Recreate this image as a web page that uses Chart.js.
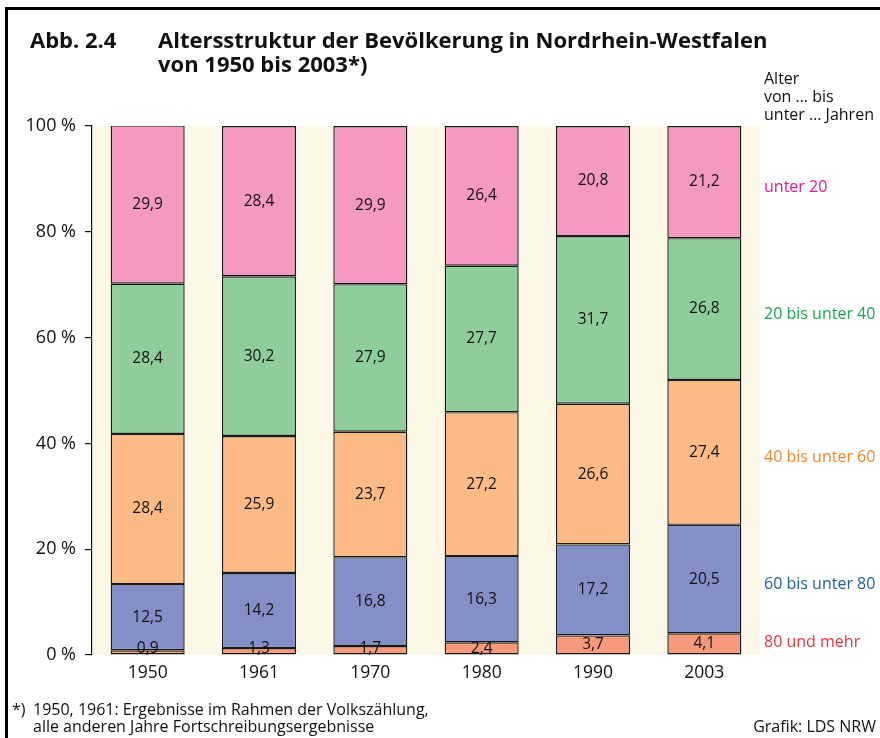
<!DOCTYPE html>
<html><head><meta charset="utf-8">
<script src="https://cdn.jsdelivr.net/npm/chart.js@4/dist/chart.umd.min.js"></script>
<style>
html,body{margin:0;padding:0;background:#fff;}
#wrap{position:relative;width:880px;height:738px;overflow:hidden;font-family:"Open Sans",sans-serif;color:#111;}
#frame{position:absolute;left:5px;top:7px;width:880px;height:740px;border-left:3px solid #000;border-top:3px solid #000;}
canvas{position:absolute;left:0;top:0;}
.t{position:absolute;white-space:nowrap;}
</style></head>
<body>
<div id="wrap">
<div id="frame"></div>
<canvas id="c" width="880" height="738"></canvas>
<div class="t" style="left:30px;top:27px;font-weight:bold;font-size:22px;line-height:24px;">Abb. 2.4</div>
<div class="t" style="left:158px;top:27px;font-weight:bold;font-size:22px;line-height:24px;">Altersstruktur der Bevölkerung in Nordrhein-Westfalen<br>von 1950 bis 2003*)</div>
<div class="t" style="left:764px;top:69px;font-size:16px;line-height:18px;">Alter<br>von … bis<br>unter … Jahren</div>
<div class="t" style="left:12px;top:701px;font-size:16px;line-height:17px;">*)</div>
<div class="t" style="left:33px;top:701px;font-size:16px;line-height:17px;">1950, 1961: Ergebnisse im Rahmen der Volkszählung,<br>alle anderen Jahre Fortschreibungsergebnisse</div>
<div class="t" style="right:4px;top:718px;font-size:16px;line-height:17px;">Grafik: LDS NRW</div>
</div>
<script>
const years = ["1950","1961","1970","1980","1990","2003"];
const seriesLabels = ["80 und mehr","60 bis unter 80","40 bis unter 60","20 bis unter 40","unter 20"];
const age80plus = [0.9,1.3,1.7,2.4,3.7,4.1];
const age60to80 = [12.5,14.2,16.8,16.3,17.2,20.5];
const age40to60 = [28.4,25.9,23.7,27.2,26.6,27.4];
const age20to40 = [28.4,30.2,27.9,27.7,31.7,26.8];
const under20   = [29.9,28.4,29.9,26.4,20.8,21.2];
const yTicks = [0,20,40,60,80,100];

const fillColors = ["#f79a7b","#848ec7","#fbba86","#8fcd9c","#f499c1"];
const labelColors = ["#e8333c","#1f5ba8","#f5862a","#17a550","#e6198a"];
const seriesData = [age80plus,age60to80,age40to60,age20to40,under20];

const FONT = '"Open Sans", sans-serif';

const bgPlugin = {
  id:'bg',
  beforeDraw(chart){
    const {ctx, chartArea:a} = chart;
    ctx.save();
    ctx.fillStyle = '#fcf8e7';
    ctx.fillRect(a.left+1, a.top, a.right-a.left-1, a.bottom-a.top);
    ctx.restore();
  }
};
const labelPlugin = {
  id:'vals',
  afterDatasetsDraw(chart){
    const {ctx, chartArea:a} = chart;
    ctx.save();
    ctx.font = '15.5px ' + FONT;
    ctx.fillStyle = '#111';
    ctx.textAlign = 'center';
    ctx.textBaseline = 'middle';
    chart.data.datasets.forEach((ds,i)=>{
      const meta = chart.getDatasetMeta(i);
      meta.data.forEach((el,j)=>{
        let y = (el.y + el.base)/2;
        y = Math.min(y, a.bottom - 6);
        ctx.fillText(ds.data[j].toFixed(1).replace('.',','), el.x, y);
      });
      const last = meta.data[meta.data.length-1];
      let ly = (last.y + last.base)/2 + 5;
      ly = Math.min(ly, a.bottom - 13);
      ctx.save();
      ctx.font = '16px ' + FONT;
      ctx.textAlign = 'left';
      ctx.fillStyle = labelColors[i];
      ctx.fillText(seriesLabels[i], a.right + 4, ly);
      ctx.restore();
    });
    ctx.restore();
  }
};

new Chart(document.getElementById('c'), {
  type:'bar',
  data:{
    labels: years,
    datasets: seriesData.map((d,i)=>({
      label: seriesLabels[i],
      data: d,
      backgroundColor: fillColors[i],
      borderColor: '#1a1a1a',
      borderWidth: 1.4,
      borderSkipped: false,
      barPercentage: 0.665,
      categoryPercentage: 1
    }))
  },
  options:{
    responsive:false,
    animation:false,
    devicePixelRatio:1,
    layout:{padding:{left:0,right:120,top:126,bottom:0}},
    plugins:{legend:{display:false},tooltip:{enabled:false},title:{display:false}},
    scales:{
      x:{
        stacked:true,
        grid:{display:false},
        border:{display:false},
        ticks:{color:'#111',font:{family:FONT,size:17.5},padding:0},
        afterFit(s){ s.height = 83; }
      },
      y:{
        stacked:true,
        min:0,max:100,
        afterBuildTicks(s){ s.ticks = yTicks.map(v=>({value:v})); },
        grid:{drawOnChartArea:false,drawTicks:true,tickLength:7,color:'#111',lineWidth:1.2},
        border:{display:true,color:'#111',width:1.2},
        ticks:{color:'#111',font:{family:FONT,size:18},padding:9,callback:v=>v+' %'},
        afterFit(s){ s.width = 92; }
      }
    }
  },
  plugins:[bgPlugin,labelPlugin]
});
</script>
</body></html>
